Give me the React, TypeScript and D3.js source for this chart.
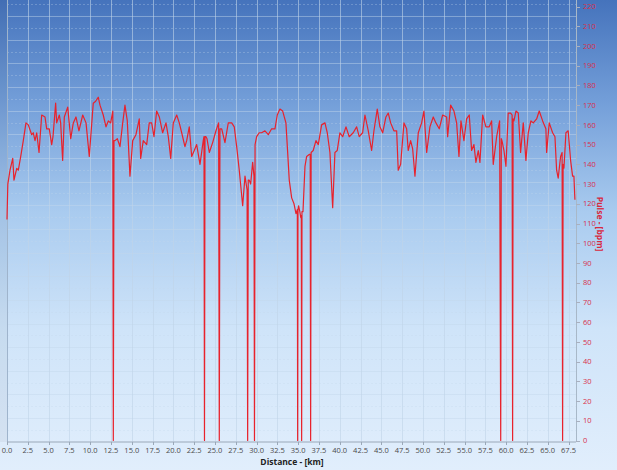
import React from "react";
import * as d3 from "d3";

const distanceKm = [
  0.0, 0.1, 0.36, 0.69, 0.84, 1.17, 1.36, 1.65, 1.96, 2.28, 2.56, 2.97, 3.16, 3.37, 3.57, 3.85, 4.17, 4.57, 4.77, 5.08,
  5.37, 5.53, 5.85, 5.97, 6.29, 6.45, 6.69, 6.89, 7.3, 7.66, 7.97, 8.29, 8.65, 9.1, 9.5, 9.89, 10.37, 10.66, 10.97, 11.18,
  11.57, 11.9, 12.18, 12.46, 12.72, 12.78, 12.86, 12.98, 13.26, 13.58, 13.91, 14.18, 14.46, 14.78, 15.11, 15.5, 15.9, 16.07, 16.38, 16.79,
  17.1, 17.39, 17.67, 17.99, 18.31, 18.71, 19.11, 19.39, 19.68, 19.99, 20.4, 20.71, 21.0, 21.39, 21.6, 21.91, 22.2, 22.51, 22.8, 23.2,
  23.59, 23.68, 23.74, 23.8, 23.92, 24.04, 24.32, 24.72, 25.12, 25.44, 25.52, 25.6, 25.81, 26.2, 26.6, 27.01, 27.32, 27.61, 27.92, 28.33,
  28.61, 28.86, 28.93, 29.0, 29.12, 29.29, 29.53, 29.69, 29.75, 29.82, 30.01, 30.32, 30.61, 31.01, 31.41, 31.81, 32.21, 32.49, 32.81, 33.14,
  33.53, 33.74, 33.93, 34.22, 34.5, 34.74, 34.9, 34.94, 34.98, 35.05, 35.2, 35.32, 35.38, 35.42, 35.46, 35.58, 35.82, 36.02, 36.33, 36.45,
  36.5, 36.56, 36.81, 37.14, 37.42, 37.82, 38.22, 38.5, 38.82, 39.15, 39.42, 39.7, 40.02, 40.35, 40.75, 41.14, 41.62, 42.03, 42.34, 42.75,
  43.03, 43.43, 43.83, 44.11, 44.51, 44.83, 45.16, 45.55, 45.83, 46.12, 46.51, 46.84, 47.03, 47.32, 47.72, 48.04, 48.23, 48.52, 48.76, 49.04,
  49.44, 49.84, 50.12, 50.45, 50.84, 51.24, 51.56, 51.96, 52.37, 52.85, 52.97, 53.33, 53.73, 54.05, 54.33, 54.57, 54.93, 55.25, 55.57, 55.85,
  56.13, 56.37, 56.65, 56.85, 57.18, 57.57, 57.97, 58.26, 58.45, 58.86, 59.22, 59.35, 59.42, 59.5, 59.74, 59.98, 60.25, 60.54, 60.72, 60.78,
  60.84, 60.94, 61.18, 61.46, 61.74, 62.06, 62.38, 62.66, 62.98, 63.26, 63.67, 63.98, 64.39, 64.78, 64.87, 65.18, 65.59, 65.87, 66.07, 66.26,
  66.55, 66.73, 66.79, 66.85, 66.95, 67.19, 67.46, 67.75, 67.99, 68.15, 68.27,
];

const pulseBpm = [
  112, 130, 137, 143, 132, 138, 137, 144, 152, 161, 160, 155, 156, 152, 156, 146, 165, 164, 158, 158,
  150, 154, 171, 161, 165, 161, 142, 164, 169, 153, 161, 164, 157, 165, 161, 144, 171, 172, 174, 170,
  165, 159, 162, 161, 167, 0, 152, 152, 153, 149, 161, 170, 162, 134, 152, 155, 163, 143, 152, 150,
  161, 161, 154, 167, 164, 156, 161, 154, 143, 161, 165, 161, 156, 149, 152, 159, 144, 147, 150, 140,
  152, 154, 0, 154, 154, 153, 146, 151, 157, 161, 0, 158, 158, 151, 161, 161, 159, 149, 137, 119,
  134, 127, 0, 132, 132, 130, 141, 134, 0, 150, 154, 156, 156, 157, 155, 158, 158, 165, 168, 167,
  161, 146, 132, 123, 120, 115, 117, 0, 117, 119, 116, 113, 114, 0, 116, 116, 139, 144, 145, 145,
  0, 146, 147, 152, 150, 160, 161, 156, 146, 118, 146, 147, 156, 154, 159, 154, 156, 159, 154, 156,
  165, 157, 147, 157, 168, 159, 156, 164, 166, 161, 157, 157, 137, 140, 161, 158, 147, 152, 148, 134,
  156, 161, 167, 146, 159, 164, 161, 158, 165, 164, 154, 170, 167, 161, 144, 162, 152, 163, 165, 147,
  150, 141, 147, 141, 165, 159, 159, 162, 140, 154, 162, 0, 153, 152, 147, 139, 166, 166, 165, 0,
  163, 162, 167, 166, 146, 161, 142, 156, 162, 161, 163, 167, 162, 158, 146, 161, 156, 154, 137, 133,
  144, 146, 0, 140, 138, 156, 157, 142, 134, 134, 122,
];

const xTickValues = d3.range(0, 67.51, 2.5);
const yTickValues = d3.range(0, 221, 10);
const xTitle = "Distance - [km]";
const yTitle = "Pulse - [bpm]";

const W = 617;
const H = 470;

export default function App() {
  const x = d3.scaleLinear().domain([0, 68.4]).range([7, 576]);
  const y = d3.scaleLinear().domain([0, 220]).range([440.5, 6.5]);
  const gridY = d3.scaleLinear().domain([0, 36]).range([441.7, 16.2]);
  const gridLines = d3.range(1, 38);

  const data = distanceKm.map((d, i) => ({ d, v: pulseBpm[i] }));
  const line = d3
    .line<{ d: number; v: number }>()
    .x((p) => x(p.d))
    .y((p) => y(p.v));

  const font = "'Open Sans', 'DejaVu Sans', sans-serif";

  return (
    <div style={{ position: "absolute", left: 0, top: 0 }}>
      <svg width={W} height={H} style={{ display: "block" }}>
        <defs>
          <linearGradient id="bg" x1="0" y1="0" x2="0" y2="1">
            <stop offset="0" stopColor="#4573bc" />
            <stop offset="0.22" stopColor="#749fd9" />
            <stop offset="0.45" stopColor="#a9cbef" />
            <stop offset="0.7" stopColor="#cfe4f9" />
            <stop offset="1" stopColor="#e1eefc" />
          </linearGradient>
        </defs>
        <rect x={0} y={0} width={W} height={H} fill="url(#bg)" />
        <rect x={0} y={0} width={7} height={442} fill="#000" opacity={0.04} />

        {/* horizontal grid */}
        {gridLines.map((k) => (
          <line
            key={"h" + k}
            x1={x(0)}
            x2={x(68.4)}
            y1={Math.round(gridY(k)) + 0.5}
            y2={Math.round(gridY(k)) + 0.5}
            stroke="#c4d6ea"
            strokeOpacity={k % 2 === 0 ? 0.45 : 0.3}
            strokeDasharray={k % 2 === 0 ? undefined : "2,2"}
            strokeWidth={1}
          />
        ))}
        {/* vertical grid */}
        {xTickValues.map((t) => (
          <line
            key={"v" + t}
            x1={Math.round(x(t)) + 0.5}
            x2={Math.round(x(t)) + 0.5}
            y1={0}
            y2={441.7}
            stroke="#c0d3e8"
            strokeOpacity={0.6}
            strokeWidth={1}
          />
        ))}

        {/* plot frame lines */}
        <line x1={7.5} x2={7.5} y1={0} y2={442} stroke="#9fb4cc" />
        <line x1={576.5} x2={576.5} y1={0} y2={441} stroke="#a8b8c8" />

        {/* data line */}
        <path d={line(data) || ""} fill="none" stroke="#e8222c" strokeWidth={1.2} strokeLinejoin="round" />

        {/* x axis */}
        <line x1={7} x2={576} y1={442} y2={442} stroke="#9aa8b8" />
        {xTickValues.map((t) => (
          <g key={"xt" + t}>
            <line x1={Math.round(x(t)) + 0.5} x2={Math.round(x(t)) + 0.5} y1={442} y2={445} stroke="#9aa8b8" />
            <text x={x(t)} y={453} fontSize={7.5} fill="#4a4a4a" textAnchor="middle" fontFamily={font}>
              {d3.format(".1f")(t)}
            </text>
          </g>
        ))}
        <text x={292} y={465} fontSize={8.5} fontWeight="bold" fill="#222" textAnchor="middle" fontFamily={font}>
          {xTitle}
        </text>

        {/* right y axis */}
        {yTickValues.map((t) => (
          <g key={"yt" + t}>
            <line x1={576} x2={580} y1={Math.round(y(t)) + 0.5} y2={Math.round(y(t)) + 0.5} stroke="#a8b0c0" />
            <text x={583} y={y(t) + 2.7} fontSize={7.5} fill="#d8304c" fontFamily={font}>
              {t}
            </text>
          </g>
        ))}
        <text
          transform={`translate(597,224) rotate(90)`}
          fontSize={8.5}
          fontWeight="bold"
          fill="#d8283e"
          textAnchor="middle"
          fontFamily={font}
        >
          {yTitle}
        </text>
      </svg>
    </div>
  );
}
